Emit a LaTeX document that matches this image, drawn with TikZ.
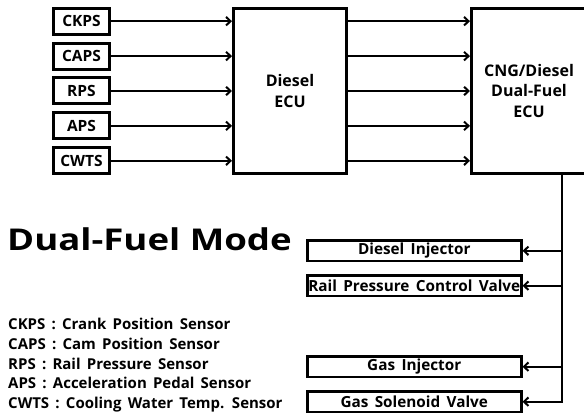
\documentclass[tikz,border=0pt]{standalone}
\usepackage{fontspec}
\setmainfont{Open Sans}[WordSpace=1.6]
\newfontfamily\titlefont{Open Sans}[FakeStretch=1.22]
\usetikzlibrary{arrows.meta}

\begin{document}
\begin{tikzpicture}[x=1pt, y=-1pt,
  sensor/.style={draw, line width=3pt, minimum width=56pt, minimum height=26pt, inner sep=0pt, font=\fontsize{15.5}{18}\selectfont\bfseries},
  ecu/.style={draw, line width=3pt, minimum width=113pt, minimum height=165pt, align=center, inner sep=0pt, font=\fontsize{16}{20.5}\selectfont\bfseries},
  actuator/.style={draw, line width=2.5pt, minimum width=214pt, minimum height=20.5pt, inner sep=0pt, font=\fontsize{15.3}{17}\selectfont\bfseries},
  legend/.style={align=left, inner sep=0pt, anchor=north west, font=\fontsize{15}{19.75}\selectfont\bfseries},
  arrow/.style={-{Straight Barb[length=4.5pt,width=8.5pt]}, line width=2pt},
  bus/.style={line width=2.5pt, line cap=rect}
]
\useasboundingbox (0,0) rectangle (584,414);
\clip (0,0) rectangle (584,414);

\node[sensor] (ckps) at (81.5,21.2) {CKPS};
\node[sensor] (caps) at (81.5,56.1) {CAPS};
\node[sensor] (rps) at (81.5,91) {RPS};
\node[sensor] (aps) at (81.5,125.9) {APS};
\node[sensor] (cwts) at (81.5,160.8) {CWTS};

\node[ecu] (diesel) at (290,91) {Diesel\\ECU};
\node[ecu, minimum width=115pt] (cng) at (529,91) {CNG/Diesel\\Dual-Fuel\\ECU};

\node[actuator] (dinj) at (414.25,250.8) {Diesel Injector};
\node[actuator] (rpcv) at (414.25,285.7) {Rail Pressure Control Valve};
\node[actuator] (ginj) at (414.25,366.7) {Gas Injector};
\node[actuator] (gsv) at (414.25,401.7) {Gas Solenoid Valve};

\node[anchor=base west, inner sep=0pt, font=\titlefont\fontsize{30}{36}\selectfont\bfseries] (title) at (7,251) {Dual-Fuel Mode};
\node[legend] (abbrev) at (8,318) {CKPS : Crank Position Sensor\\CAPS : Cam Position Sensor\\RPS : Rail Pressure Sensor\\APS : Acceleration Pedal Sensor\\CWTS : Cooling Water Temp. Sensor};

\coordinate (busTop) at (562,173.5);

\draw[arrow] (ckps) -- (ckps -| diesel.west);
\draw[arrow] (caps) -- (caps -| diesel.west);
\draw[arrow] (rps) -- (rps -| diesel.west);
\draw[arrow] (aps) -- (aps -| diesel.west);
\draw[arrow] (cwts) -- (cwts -| diesel.west);

\draw[arrow] (ckps -| diesel.east) -- (ckps -| cng.west);
\draw[arrow] (caps -| diesel.east) -- (caps -| cng.west);
\draw[arrow] (rps -| diesel.east) -- (rps -| cng.west);
\draw[arrow] (aps -| diesel.east) -- (aps -| cng.west);
\draw[arrow] (cwts -| diesel.east) -- (cwts -| cng.west);

\draw[bus] (busTop) -- (busTop |- gsv);
\draw[arrow] (busTop |- dinj) -- (dinj.east);
\draw[arrow] (busTop |- rpcv) -- (rpcv.east);
\draw[arrow] (busTop |- ginj) -- (ginj.east);
\draw[arrow] (busTop |- gsv) -- (gsv.east);
\end{tikzpicture}
\end{document}
